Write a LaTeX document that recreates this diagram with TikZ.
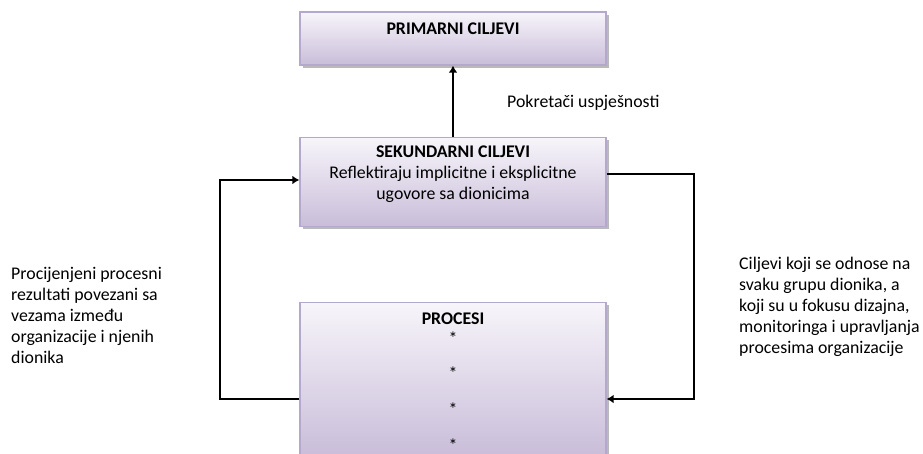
\documentclass[tikz,border=0pt]{standalone}
\usepackage{fontspec}
\setmainfont{Carlito}
\usetikzlibrary{positioning,shadows,arrows.meta}
\definecolor{goaltop}{HTML}{F7F5FA}
\definecolor{goalbottom}{HTML}{C9BDD9}
\definecolor{goalline}{HTML}{B5A8CD}
\tikzset{
	goal/.style={draw=goalline, line width=1.1pt, top color=goaltop, bottom color=goalbottom,
		minimum width=9.18cm, drop shadow={shadow xshift=2.2pt, shadow yshift=-2.2pt, fill=black!45, opacity=0.6}},
	title/.style={align=center},
	note/.style={align=left, inner sep=0pt},
	link/.style={-{Latex[length=6pt,width=7.5pt]}, line width=1.2pt}
}
\begin{document}
\begin{tikzpicture}[x=0.03cm, y=-0.03cm, font=\fontsize{15.2}{18}\selectfont]
		\useasboundingbox (0,0) rectangle (923,454);
		\node (prim) [goal, minimum height=1.59cm] at (453,38.5) {};
		\node (sek) [goal, minimum height=2.67cm, below=2.13cm of prim] {};
		\node (proc) [goal, minimum height=4.59cm, below=2.25cm of sek] {};
		\node (primtitle) [title, below=6.5pt of prim.north] {\textbf{PRIMARNI CILJEVI}};
		\node (sektitle) [title, below=4pt of sek.north] {\textbf{SEKUNDARNI CILJEVI}\\ Reflektiraju implicitne i eksplicitne\\ ugovore sa dionicima};
		\node (proctitle) [title, below=5.5pt of proc.north] {\textbf{PROCESI}\\[-1pt] *\\[12.5pt] *\\[12.5pt] *\\[12.5pt] *};
		\node (drivers) [note, anchor=west] at (507,103) {Pokretači uspješnosti};
		\node (leftnote) [note, anchor=north west] at (11,267) {Procijenjeni procesni\\ rezultati povezani sa\\ vezama između\\ organizacije i njenih\\ dionika};
		\node (rightnote) [note, anchor=north west] at (739,257) {Ciljevi koji se odnose na\\ svaku grupu dionika, a\\ koji su u fokusu dizajna,\\ monitoringa i upravljanja\\ procesima organizacije};
		\coordinate (lefttop) at (220,180);
		\coordinate (leftbottom) at (220,399);
		\coordinate (righttop) at (694,174);
		\coordinate (rightbottom) at (694,399);
		\draw [link] (sek) -- (prim);
		\draw [link] (proc.west |- leftbottom) -- (leftbottom) -- (lefttop) -- (lefttop -| sek.west);
		\draw [link] (sek.east |- righttop) -- (righttop) -- (rightbottom) -- (rightbottom -| proc.east);
\end{tikzpicture}
\end{document}
